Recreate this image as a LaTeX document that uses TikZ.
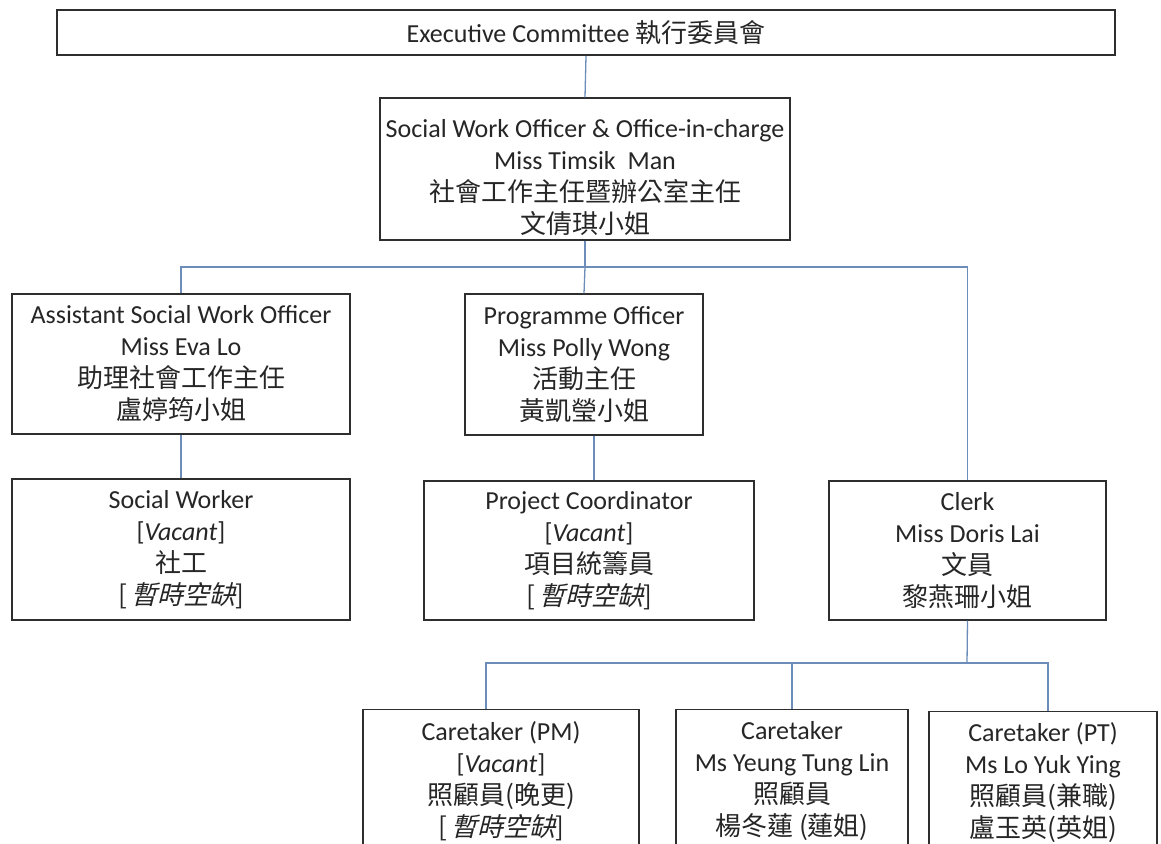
\documentclass[tikz,border=0pt]{standalone}
\usepackage{fontspec}
\setmainfont{Carlito}
\newfontfamily\zhf{Noto Sans CJK TC}
\newfontfamily\zhit[FakeSlant=0.25]{Noto Sans CJK TC}
\newcommand\zh[1]{{\zhf\fontsize{26}{32}\selectfont #1}}
\newcommand\zhi[1]{{\zhit\fontsize{26}{32}\selectfont #1}}
\definecolor{conn}{HTML}{6C8DBA}
\definecolor{boxline}{HTML}{2E2E2E}
\definecolor{txt}{HTML}{262626}
\tikzset{
  box/.style={draw=boxline, line width=1.4pt, fill=white, inner sep=0pt, align=center,
    text=txt, font=\fontsize{26}{32}\selectfont},
  boxtext/.style={inner sep=0pt, align=center, text=txt, font=\fontsize{26}{32}\selectfont},
  conn/.style={draw=conn, line width=1.3pt},
}
\begin{document}
\begin{tikzpicture}[x=1pt,y=-1pt]
\useasboundingbox (0,0) rectangle (1161,843);
\clip (0,0) rectangle (1161,843);
% boxes
\node[box, line width=1.8pt, minimum width=1058, minimum height=45] (exec) at (586,32.5)
  {Executive Committee \zh{執行委員會}};
\node[box, minimum width=410, minimum height=142] (swo) at (585,169) {};
\node[boxtext] (swotext) at (585,178)
  {Social Work Officer \& Office-in-charge\\Miss Timsik\ \ Man\\\zh{社會工作主任暨辦公室主任}\\\zh{文倩琪小姐}};
\node[box, minimum width=338, minimum height=140] (aswo) at (181,364)
  {Assistant Social Work Officer\\Miss Eva Lo\\\zh{助理社會工作主任}\\\zh{盧婷筠小姐}};
\node[box, minimum width=238, minimum height=141] (prog) at (584,364.5)
  {Programme Officer\\Miss Polly Wong\\\zh{活動主任}\\\zh{黃凱瑩小姐}};
\node[box, minimum width=338, minimum height=141] (sw) at (181,549.5)
  {Social Worker\\{[}\textit{Vacant}{]}\\\zh{社工}\\{\zh{[}\,\zhi{暫時空缺}\zh{]}}};
\node[box, minimum width=330, minimum height=139] (pc) at (589,550.5)
  {Project Coordinator\\{[}\textit{Vacant}{]}\\\zh{項目統籌員}\\{\zh{[}\,\zhi{暫時空缺}\zh{]}}};
\node[box, minimum width=277, minimum height=139] (clerk) at (967.5,550.5)
  {Clerk\\Miss Doris Lai\\\zh{文員}\\\zh{黎燕珊小姐}};
\node[box, minimum width=276, minimum height=142, anchor=north] (ct1) at (501,709)
  {Caretaker (PM)\\{[}\textit{Vacant}{]}\\\zh{照顧員(晚更)}\\{\zh{[}\,\zhi{暫時空缺}\zh{]}}};
\node[box, minimum width=232, minimum height=142, anchor=north] (ct2) at (792,709)
  {Caretaker\\Ms Yeung Tung Lin\\\zh{照顧員}\\\zh{楊冬蓮 (蓮姐)}};
\node[box, minimum width=228, minimum height=142, anchor=north] (ct3) at (1043,711)
  {Caretaker (PT)\\Ms Lo Yuk Ying\\\zh{照顧員(兼職)}\\\zh{盧玉英(英姐)}};
% bus coordinates
\coordinate (busA) at (585,267);
\coordinate (busB) at (967,663);
% connectors
\draw[conn] (exec.south) -- (swo.north);
\draw[conn] (swo.south) -- (busA);
\draw[conn] (aswo.north) |- (busA) -| (clerk.north);
\draw[conn] (busA) -- (prog.north);
\draw[conn] (aswo.south) -- (sw.north);
\draw[conn] ([xshift=10pt]prog.south) -- ([xshift=10pt]prog.south |- pc.north);
\draw[conn] (clerk.south) -- (busB);
\draw[conn] ([xshift=-15pt]ct1.north) |- (busB) -| ([xshift=5pt]ct3.north);
\draw[conn] (ct2.north) -- (ct2.north |- busB);
\end{tikzpicture}
\end{document}
